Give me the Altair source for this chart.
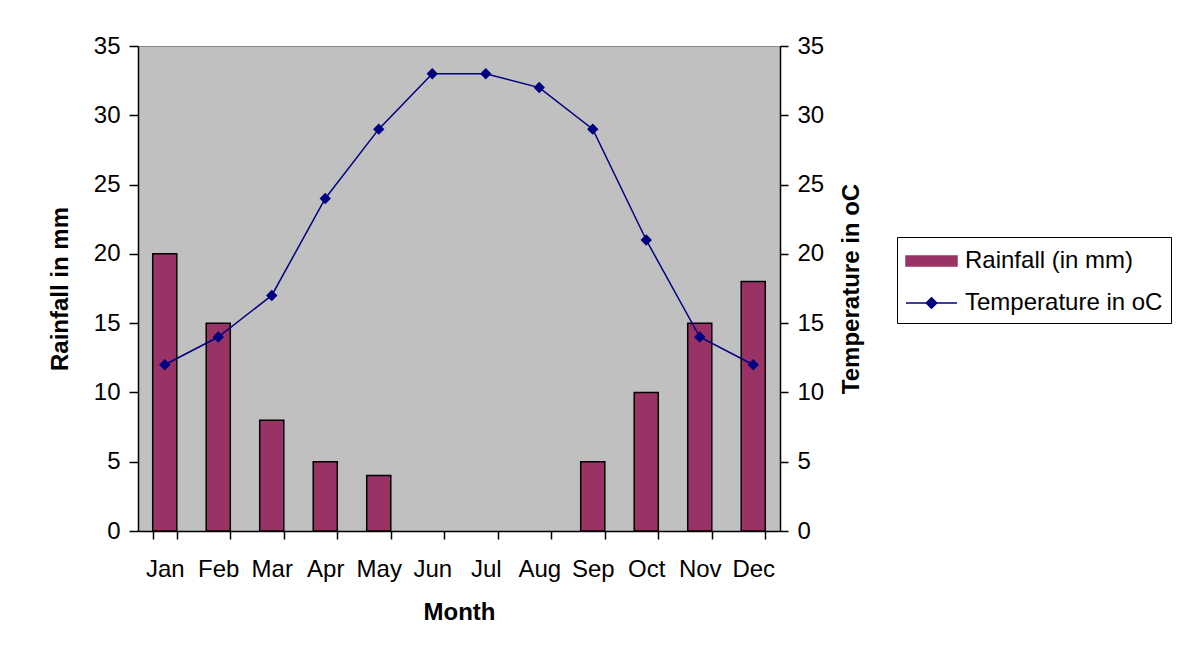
import altair as alt
import pandas as pd

months = ["Jan", "Feb", "Mar", "Apr", "May", "Jun", "Jul", "Aug", "Sep", "Oct", "Nov", "Dec"]
rainfall = [20, 15, 8, 5, 4, 0, 0, 0, 5, 10, 15, 18]
temperature = [12, 14, 17, 24, 29, 33, 33, 32, 29, 21, 14, 12]
series_names = ["Rainfall (in mm)", "Temperature in oC"]
series_colors = ["#993366", "#000080"]
y_ticks = [0, 5, 10, 15, 20, 25, 30, 35]

df = pd.DataFrame({"Month": months, "Rainfall": rainfall, "Temperature": temperature})

FONT = "Liberation Sans"
FS = 24
R = series_names[0]

x_enc = alt.X(
    "Month:N",
    sort=months,
    scale=alt.Scale(paddingInner=0.55, paddingOuter=0.275),
    axis=alt.Axis(
        title="Month", labelAngle=0, tickBand="extent", tickSize=8,
        labelPadding=18, titlePadding=19,
    ),
)

color_scale = alt.Scale(domain=series_names, range=series_colors)

legend = alt.Legend(
    title=None,
    orient="none",
    legendX=759,
    legendY=191,
    padding=8,
    fillColor="white",
    strokeColor="black",
    symbolSize=900,
    rowPadding=14,
    labelFont=FONT,
    labelFontSize=FS,
    labelColor="black",
    labelOffset=28,
    labelLimit=500,
    symbolStrokeWidth=1.5,
    symbolOpacity=1,
    symbolType=alt.ExprRef(expr=f"datum.value === '{R}' ? 'M-1,-0.33H2.4V0.33H-1Z' : 'M-1,0H2.4M0.7,-0.35L1.05,0L0.7,0.35L0.35,0Z'"),
    symbolStrokeColor=alt.ExprRef(expr=f"datum.value === '{R}' ? 'black' : '{series_colors[1]}'"),
    symbolFillColor=alt.ExprRef(expr=f"datum.value === '{R}' ? '{series_colors[0]}' : '{series_colors[1]}'"),
)

base = alt.Chart(df)

bars = base.transform_filter("datum.Rainfall > 0").transform_calculate(
    series=f"'{series_names[0]}'"
).mark_bar(stroke="black", strokeWidth=1.5).encode(
    x=x_enc,
    y=alt.Y(
        "Rainfall:Q",
        scale=alt.Scale(domain=[0, 35]),
        axis=alt.Axis(title="Rainfall in mm", values=y_ticks, tickSize=9,
                      labelPadding=9, titlePadding=21, grid=False),
    ),
    color=alt.Color("series:N", scale=color_scale, legend=legend),
)

line = base.transform_calculate(series=f"'{series_names[1]}'").mark_line(
    strokeWidth=1.5,
    point=alt.OverlayMarkDef(shape="diamond", size=130, filled=True, color=series_colors[1]),
).encode(
    x=x_enc,
    y=alt.Y(
        "Temperature:Q",
        scale=alt.Scale(domain=[0, 35]),
        axis=alt.Axis(title="Temperature in oC", orient="right", values=y_ticks,
                      tickSize=8, labelPadding=9, titlePadding=40, titleAngle=270, grid=False),
    ),
    color=alt.Color("series:N", scale=color_scale, legend=legend),
)

chart = (
    alt.layer(bars, line)
    .resolve_scale(y="independent")
    .properties(
        width=642,
        height=485,
        padding={"left": 130, "top": 38, "right": 402, "bottom": 120},
        autosize=alt.AutoSizeParams(type="none"),
        background="white",
    )
    .configure_view(fill="#C0C0C0", stroke="#8a8a8a", strokeWidth=1)
    .configure_axis(
        labelFont=FONT, labelFontSize=FS, labelColor="black",
        titleFont=FONT, titleFontSize=FS, titleFontWeight="bold", titleColor="black",
        domainColor="black", domainWidth=1.5, tickColor="black", tickWidth=1.5,
        grid=False,
    )
)

chart.save("out.html", embed_options={"renderer": "svg", "actions": False})
